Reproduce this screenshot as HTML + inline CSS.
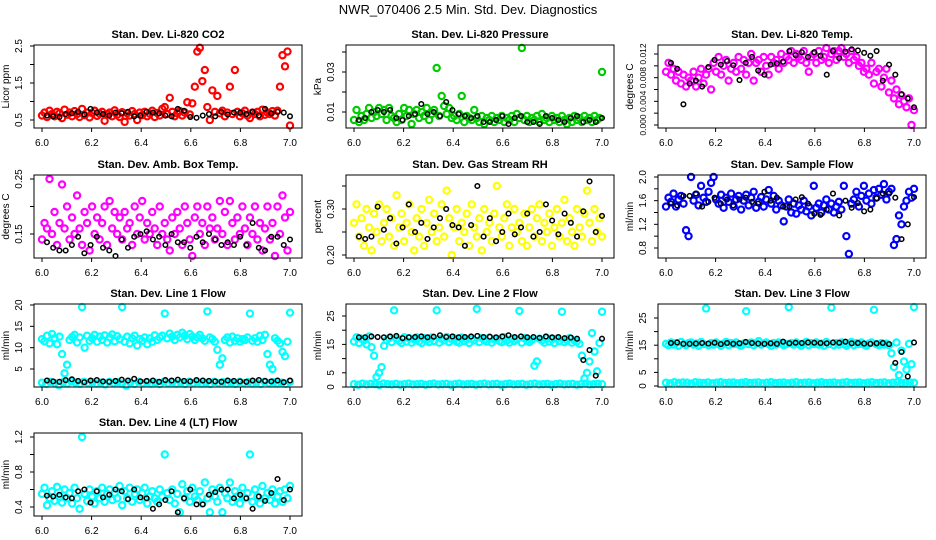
<!DOCTYPE html>
<html><head><meta charset="utf-8"><style>
body{margin:0;background:#fff;}
svg{display:block;font-family:"Liberation Sans",Arial,sans-serif;}
</style></head><body>
<svg id="chart" width="936" height="540" viewBox="0 0 936 540" xmlns="http://www.w3.org/2000/svg">
<rect width="936" height="540" fill="#fff"/>
<text x="468" y="14" text-anchor="middle" font-size="13">NWR_070406  2.5 Min. Std. Dev. Diagnostics</text>
</svg>
<script>
const xTicks = [6.0, 6.2, 6.4, 6.6, 6.8, 7.0];
const xTickLabels = ["6.0","6.2","6.4","6.6","6.8","7.0"];

const co2Red = [0.62,0.7,0.58,0.75,0.66,0.6,0.72,0.68,0.55,0.78,0.64,0.7,0.6,0.74,0.66,0.58,0.8,0.63,0.7,0.57,0.69,0.75,0.61,0.67,0.72,0.48,0.66,0.7,0.6,0.76,0.64,0.58,0.71,0.45,0.68,0.62,0.74,0.66,0.5,0.7,0.63,0.72,0.6,0.67,0.75,0.58,0.69,0.62,0.8,0.85,0.66,1.1,0.72,0.6,0.68,0.74,0.62,0.7,0.98,0.65,0.95,1.4,2.35,2.45,1.55,1.85,0.85,0.5,1.3,0.72,1.15,0.68,0.75,0.6,0.7,1.4,0.66,1.85,0.72,0.6,0.68,0.75,0.62,0.55,0.7,0.66,0.72,0.6,0.78,0.64,0.7,0.66,0.74,0.62,0.75,1.4,2.25,1.95,2.35,0.35];
const co2Black = [0.62,0.6,0.58,0.66,0.68,0.72,0.65,0.8,0.7,0.66,0.62,0.7,0.68,0.72,0.6,0.62,0.72,0.7,0.68,0.62,0.6,0.8,0.75,0.58,0.56,0.62,0.66,0.6,0.72,0.65,0.7,0.7,0.66,0.72,0.62,0.8,0.68,0.72,0.7,0.6];

const presGreen = [0.006,0.011,0.005,0.008,0.006,0.009,0.012,0.007,0.01,0.008,0.012,0.009,0.011,0.006,0.012,0.008,0.007,0.005,0.009,0.006,0.012,0.008,0.011,0.004,0.009,0.011,0.007,0.01,0.008,0.012,0.006,0.009,0.011,0.032,0.008,0.018,0.013,0.009,0.012,0.007,0.008,0.006,0.009,0.018,0.005,0.008,0.007,0.006,0.011,0.007,0.005,0.008,0.004,0.007,0.006,0.008,0.005,0.007,0.006,0.008,0.005,0.007,0.006,0.008,0.005,0.009,0.007,0.042,0.006,0.008,0.005,0.007,0.006,0.008,0.005,0.009,0.006,0.007,0.005,0.008,0.006,0.007,0.005,0.008,0.006,0.004,0.007,0.005,0.008,0.006,0.007,0.005,0.008,0.006,0.007,0.005,0.008,0.006,0.007,0.03];
const presBlack = [0.006,0.007,0.01,0.011,0.01,0.011,0.007,0.006,0.008,0.009,0.014,0.009,0.01,0.008,0.015,0.011,0.009,0.008,0.007,0.008,0.005,0.005,0.006,0.008,0.004,0.007,0.008,0.005,0.005,0.004,0.008,0.007,0.006,0.005,0.007,0.008,0.005,0.006,0.005,0.007];

const tempMag = [0.009,0.0105,0.0085,0.0095,0.0075,0.009,0.007,0.0085,0.0065,0.008,0.0075,0.009,0.0065,0.008,0.0095,0.007,0.0085,0.0095,0.006,0.0105,0.009,0.0115,0.0085,0.01,0.011,0.0075,0.0095,0.0105,0.009,0.0115,0.0095,0.011,0.0085,0.0105,0.012,0.0075,0.0105,0.011,0.009,0.0115,0.01,0.0085,0.0115,0.0105,0.011,0.0095,0.012,0.0105,0.0115,0.011,0.0125,0.0105,0.012,0.0115,0.011,0.0125,0.0105,0.009,0.0115,0.012,0.0105,0.0125,0.011,0.0115,0.013,0.0105,0.012,0.0125,0.011,0.0125,0.013,0.0115,0.012,0.0105,0.0125,0.011,0.0115,0.01,0.0105,0.009,0.0095,0.0085,0.0105,0.007,0.009,0.0095,0.0065,0.008,0.0095,0.0055,0.0075,0.0045,0.006,0.0035,0.005,0.004,0.003,0.0045,0.0,0.0025];
const tempBlack = [0.0105,0.0095,0.0035,0.007,0.0075,0.0065,0.0098,0.011,0.0102,0.0108,0.0101,0.0076,0.0105,0.0115,0.0092,0.0085,0.0102,0.0104,0.0107,0.0125,0.0118,0.0123,0.0115,0.0123,0.0117,0.0085,0.0125,0.0113,0.0124,0.0128,0.0126,0.0122,0.0117,0.0125,0.0075,0.0102,0.0085,0.0052,0.0045,0.003];

const ambMag = [0.14,0.17,0.16,0.25,0.15,0.19,0.13,0.17,0.24,0.16,0.2,0.14,0.18,0.15,0.22,0.16,0.13,0.19,0.17,0.12,0.2,0.15,0.18,0.14,0.17,0.2,0.13,0.21,0.16,0.19,0.15,0.18,0.14,0.19,0.16,0.17,0.13,0.2,0.15,0.18,0.21,0.14,0.17,0.15,0.19,0.16,0.13,0.2,0.15,0.17,0.14,0.12,0.18,0.15,0.19,0.16,0.13,0.2,0.17,0.14,0.11,0.18,0.2,0.15,0.17,0.13,0.2,0.16,0.18,0.14,0.16,0.21,0.15,0.19,0.13,0.21,0.17,0.14,0.18,0.15,0.2,0.16,0.13,0.18,0.15,0.2,0.14,0.17,0.12,0.16,0.2,0.14,0.17,0.11,0.2,0.15,0.22,0.18,0.12,0.19];
const ambBlack = [0.135,0.125,0.12,0.12,0.13,0.145,0.115,0.13,0.145,0.125,0.12,0.11,0.14,0.125,0.145,0.15,0.155,0.14,0.145,0.13,0.15,0.135,0.135,0.125,0.145,0.135,0.15,0.14,0.13,0.135,0.13,0.145,0.13,0.17,0.125,0.12,0.145,0.145,0.13,0.14];

const rhYellow = [0.27,0.31,0.24,0.28,0.22,0.3,0.26,0.21,0.29,0.25,0.31,0.23,0.27,0.3,0.24,0.28,0.22,0.33,0.26,0.29,0.23,0.27,0.31,0.25,0.21,0.28,0.24,0.3,0.22,0.27,0.32,0.25,0.29,0.23,0.26,0.31,0.24,0.34,0.28,0.2,0.26,0.3,0.23,0.27,0.25,0.29,0.22,0.31,0.26,0.24,0.28,0.21,0.3,0.25,0.27,0.23,0.29,0.35,0.26,0.24,0.28,0.31,0.22,0.26,0.3,0.25,0.27,0.23,0.29,0.22,0.26,0.3,0.24,0.28,0.31,0.23,0.27,0.25,0.29,0.22,0.26,0.3,0.24,0.27,0.32,0.23,0.28,0.25,0.22,0.3,0.26,0.24,0.29,0.34,0.27,0.23,0.3,0.25,0.28,0.24];
const rhBlack = [0.24,0.235,0.24,0.305,0.255,0.28,0.225,0.26,0.31,0.25,0.27,0.235,0.26,0.28,0.3,0.265,0.26,0.22,0.265,0.35,0.24,0.28,0.23,0.25,0.29,0.245,0.26,0.29,0.24,0.25,0.31,0.275,0.245,0.29,0.27,0.24,0.295,0.36,0.25,0.285];

const flowBlue = [1.5,1.65,1.58,1.72,1.5,1.62,1.68,1.55,1.1,1.0,2.0,1.6,1.7,1.52,1.85,1.65,1.58,1.75,1.9,2.0,1.62,1.55,1.7,1.48,1.65,1.58,1.72,1.5,1.62,1.68,1.45,1.6,1.7,1.52,1.65,1.75,1.48,1.58,1.66,1.5,1.62,1.78,1.55,1.68,1.45,1.6,1.52,1.25,1.5,1.62,1.4,1.55,1.38,1.52,1.45,1.6,1.42,1.5,1.35,1.85,1.48,1.55,1.4,1.52,1.62,1.45,1.55,1.4,1.5,1.58,1.45,1.85,1.0,0.7,1.55,1.62,1.75,1.5,1.68,1.85,1.6,1.72,1.55,1.78,1.65,1.8,1.7,1.88,1.62,1.75,1.8,0.85,0.95,1.35,1.2,1.5,1.6,1.75,1.65,1.8];
const flowBlack = [1.55,1.52,1.68,1.68,1.72,1.5,1.58,1.65,1.55,1.62,1.52,1.62,1.65,1.58,1.55,1.75,1.6,1.65,1.5,1.5,1.62,1.66,1.55,1.38,1.36,1.45,1.72,1.35,1.6,1.48,1.56,1.42,1.45,1.64,1.72,1.72,1.65,0.95,1.2,1.66];

const l1CyanHigh = [12,11.5,12.8,11,13.2,12.2,10.8,12.6,8.5,4,6,11.8,12.5,13,11.2,12.4,19.5,10,12.8,11.6,12.2,13,11.4,12.6,11.8,12.9,11.2,12.4,13.1,11.5,12.7,12,19.5,11.4,12.6,11,12.2,12.8,10.5,12,11.6,12.4,10.8,12.2,11.4,12.9,11.8,12.4,12.8,18,12.2,13.3,12.6,11.8,13,12.4,13.5,12.8,12,13.2,12.6,11.8,12.4,13,12.2,11.6,18.5,12.4,12,11.4,9.5,6,7.5,11.8,12.4,11.2,12.6,11.6,12.2,11.4,12,11.8,12.4,18,11.6,12.2,11.4,12.8,11.8,13,8.5,6,5,12.2,11.6,11,9,8,11.4,18.2];
const l1CyanLow = [1.8,1.5,2.0,1.7,1.2,1.9,1.6,2.1,1.8,1.5,2.0,1.7,1.9,1.6,1.8,1.4,2.0,1.7,1.9,1.6,1.1,1.8,1.5,2.0,1.7,1.9,1.6,1.8,1.5,2.0,1.7,1.9,1.6,1.8,1.5,2.0,1.7,1.9,1.6,1.8,1.5,2.0,1.7,1.9,1.6,1.8,1.5,2.0,1.7,1.9,1.6,1.8,1.5,2.0,1.7,1.9,1.6,1.8,1.5,2.0];
const l1Black = [2.3,2.1,2.0,2.4,2.6,2.2,1.9,2.3,2.4,2.1,2.0,2.2,2.5,2.3,2.7,2.1,2.2,2.3,2.0,2.4,2.3,2.5,2.2,2.1,2.4,2.3,2.2,2.1,2.0,2.3,2.2,2.1,2.0,2.3,2.4,2.2,2.1,2.3,1.9,2.3];

const l2CyanHigh = [16,17.5,15.5,17,16.5,15,17.8,14,11,3.5,5,7,14.5,16.5,17.2,15.8,27,17,16.2,15.5,17.5,16,17.2,15.6,16.8,17.5,16,15.5,17.2,16.6,15.8,17.4,16.2,27,15.6,17,16.4,17.6,15.8,16.8,17.2,16,15.6,17.4,16.2,16.8,15.5,17,16.4,27.5,15.8,17.2,16.6,16,17.4,15.6,16.8,17,16.2,15.8,17.5,16.4,15.6,17,16.2,16.8,26.8,15.6,17.2,16.4,15.8,16.6,7.5,9,17,16.4,15.6,17.2,16,16.8,15.5,17,16.2,26.5,15.8,16.6,17.2,15.6,16.4,16,15.2,11,3,5,9,19,12.5,5.5,15.5,26.5];
const l2CyanLow = [1,0.8,1.2,0.9,1.1,1,0.7,1.2,1,0.9,1.1,0.8,1,1.2,0.9,1,1.1,0.8,1,1.2,0.9,1,1.1,0.8,1,1.2,0.9,1,1.1,0.8,1,1.2,0.9,1,1.1,0.8,1,1.2,0.9,1,1.1,0.8,1,1.2,0.9,1,1.1,0.8,1,1.2,0.9,1,1.1,0.8,1,1.2,0.9,1,1.1,1];
const l2Black = [17.5,17.5,17.8,17.6,17.5,17.8,18,17.2,17.5,17.6,17.8,17.5,17.7,18.2,17.6,17.8,17.5,17.6,17.8,18,17.6,17.7,17.5,17.8,18.2,17.6,17.8,17.5,17.6,17.3,17.8,17.5,17.6,17.2,17.4,17,9.5,13,4,17];

const l3CyanHigh = [15.5,15,16,15.2,15.8,14.8,16.2,15.4,15,15.8,16,15.2,15.6,14.8,16.2,15.4,28.5,15,15.8,15.2,16,15.4,14.8,15.6,16.2,15,15.8,15.4,16,15.2,14.8,15.6,27.5,15.4,16,15,15.8,16.5,15.2,15.6,16,15.4,14.8,15.8,15.2,16,15.6,15,15.4,29,15.8,15.2,16,15.4,14.8,15.6,16.2,15,15.8,15.4,16,15.2,15.6,14.8,16.2,15.4,28.8,15,15.8,15.2,16,15.4,14.8,15.6,16.2,15,15.8,15.4,16,15.2,14.8,15.6,16,28,15.4,15,15.8,15.2,15.6,15,12,7,16,4,13,9,6,15.5,8,29];
const l3CyanLow = [1.2,1,1.4,1.1,1.3,1.2,0.9,1.4,1.2,1.1,1.3,1,1.2,1.4,1.1,1.2,1.3,1,1.2,1.4,1.1,1.2,1.3,1,1.2,1.4,1.1,1.2,1.3,1,1.2,1.4,1.1,1.2,1.3,1,1.2,1.4,1.1,1.2,1.3,1,1.2,1.4,1.1,1.2,1.3,1,1.2,1.4,1.1,1.2,1.3,1,1.2,1.4,1.1,1.2,1.3,1.2];
const l3Black = [15.8,16,15.5,15.5,15.6,15.8,15.6,15.9,15.4,15.8,15.5,15.7,16.2,15.8,15.6,15.5,15.7,15.5,16.3,15.7,15.9,15.8,16,15.9,15.8,15.7,16,15.9,16.3,15.7,15.8,15.6,15.5,15.7,15.8,15.4,8.5,12.5,3.5,16];

const l4Cyan = [0.55,0.62,0.42,0.5,0.58,0.47,0.63,0.52,0.45,0.6,0.5,0.56,0.44,0.62,0.5,0.38,1.2,0.55,0.47,0.6,0.52,0.44,0.58,0.5,0.62,0.46,0.55,0.6,0.48,0.56,0.5,0.64,0.42,0.58,0.5,0.62,0.46,0.55,0.6,0.48,0.56,0.62,0.44,0.52,0.58,0.5,0.46,0.6,0.52,1.0,0.56,0.48,0.6,0.44,0.55,0.34,0.66,0.5,0.58,0.46,0.62,0.52,0.48,0.58,0.44,0.68,0.5,0.34,0.6,0.52,0.46,0.62,0.34,0.56,0.5,0.68,0.46,0.58,0.52,0.44,0.62,0.5,0.56,1.0,0.46,0.6,0.52,0.44,0.64,0.5,0.56,0.48,0.6,0.44,0.52,0.58,0.46,0.6,0.5,0.64];
const l4Black = [0.53,0.52,0.54,0.51,0.5,0.58,0.6,0.45,0.58,0.51,0.54,0.6,0.58,0.49,0.6,0.51,0.5,0.38,0.43,0.48,0.58,0.34,0.5,0.6,0.43,0.43,0.54,0.57,0.6,0.6,0.5,0.54,0.5,0.38,0.52,0.47,0.56,0.72,0.48,0.6];

const panels = [
 {name:"co2", title:"Stan. Dev. Li-820 CO2", ylab:"Licor ppm", col:0,row:0, ref:[0.5,75,2.5,1], ticks:[0.5,1.0,1.5,2.0,2.5], labels:[0.5,1.5,2.5], fmt:1, lfs:10,
  series:[[co2Red,"#ff0000"],[co2Black,"#000"]]},
 {name:"pressure", title:"Stan. Dev. Li-820 Pressure", ylab:"kPa", col:1,row:0, ref:[0.01,67,0.03,27], ticks:[0.01,0.02,0.03,0.04], labels:[0.01,0.03], fmt:2, lfs:10,
  series:[[presGreen,"#00cc00"],[presBlack,"#000"]]},
 {name:"temp", title:"Stan. Dev. Li-820 Temp.", ylab:"degrees C", col:2,row:0, ref:[0,80,0.012,9], ticks:[0,0.002,0.004,0.006,0.008,0.01,0.012], labels:[0,0.004,0.008,0.012], fmt:3, lfs:8.5,
  series:[[tempMag,"#ff00ff"],[tempBlack,"#000"]]},
 {name:"amb-box-temp", title:"Stan. Dev. Amb. Box Temp.", ylab:"degrees C", col:0,row:1, ref:[0.25,4,0.15,59], ticks:[0.15,0.2,0.25], labels:[0.15,0.25], fmt:2, lfs:10,
  series:[[ambMag,"#ff00ff"],[ambBlack,"#000"]]},
 {name:"gas-rh", title:"Stan. Dev. Gas Stream RH", ylab:"percent", col:1,row:1, ref:[0.3,34,0.2,80], ticks:[0.2,0.25,0.3,0.35], labels:[0.2,0.3], fmt:2, lfs:10,
  series:[[rhYellow,"#ffff00"],[rhBlack,"#000"]]},
 {name:"sample-flow", title:"Stan. Dev. Sample Flow", ylab:"ml/min", col:2,row:1, ref:[2.0,2,0.8,73], ticks:[0.8,1.0,1.2,1.4,1.6,1.8,2.0], labels:[0.8,1.2,1.6,2.0], fmt:1, lfs:10,
  series:[[flowBlue,"#0000ff"],[flowBlack,"#000"]]},
 {name:"line1-flow", title:"Stan. Dev. Line 1 Flow", ylab:"ml/min", col:0,row:2, ref:[20,1,5,65], ticks:[5,10,15,20], labels:[5,10,15,20], fmt:0, lfs:10,
  series:[[l1CyanHigh,"#00ffff"],[l1CyanLow,"#00ffff"],[l1Black,"#000"]]},
 {name:"line2-flow", title:"Stan. Dev. Line 2 Flow", ylab:"ml/min", col:1,row:2, ref:[25,12,0,83], ticks:[0,5,10,15,20,25], labels:[0,5,15,25], fmt:0, lfs:10,
  series:[[l2CyanHigh,"#00ffff"],[l2CyanLow,"#00ffff"],[l2Black,"#000"]]},
 {name:"line3-flow", title:"Stan. Dev. Line 3 Flow", ylab:"ml/min", col:2,row:2, ref:[25,14,0,82], ticks:[0,5,10,15,20,25], labels:[0,5,15,25], fmt:0, lfs:10,
  series:[[l3CyanHigh,"#00ffff"],[l3CyanLow,"#00ffff"],[l3Black,"#000"]]},
 {name:"line4-flow", title:"Stan. Dev. Line 4 (LT) Flow", ylab:"ml/min", col:0,row:3, ref:[1.2,4,0.4,74], ticks:[0.4,0.6,0.8,1.0,1.2], labels:[0.4,0.8,1.2], fmt:1, lfs:10,
  series:[[l4Cyan,"#00ffff"],[l4Black,"#000"]]}
];
const rowTops = [45,175,304,433];
const NS = "http://www.w3.org/2000/svg";
const svg = document.getElementById("chart");
function mk(tag, attrs, parent){const e=document.createElementNS(NS,tag);for(const k in attrs)e.setAttribute(k,attrs[k]);(parent||svg).appendChild(e);return e;}

panels.forEach(p=>{
  const g = mk("g",{});
  
  
  const top = rowTops[p.row], bot = top+83;
  const left = 34+312*p.col, right = 302+312*p.col;
  const xs = v => 42+312*p.col + (v-6)*248;
  const [v1,o1,v2,o2] = p.ref;
  const ys = v => top + o1 + (v-v1)*(o2-o1)/(v2-v1);
  const t = mk("text",{x:(left+right)/2,y:top-7,"text-anchor":"middle","font-size":"11","font-weight":"bold"},g);
  t.textContent = p.title;
  
  
  const xa = mk("g",{},g);
  
  
  xTicks.forEach((v,i)=>{
    mk("line",{x1:xs(v),x2:xs(v),y1:bot,y2:bot+4,stroke:"#000","stroke-width":1},xa);
    const lt = mk("text",{x:xs(v),y:bot+18,"text-anchor":"middle","font-size":"10"},xa);
    lt.textContent = xTickLabels[i];
    
    
  });
  const ya = mk("g",{},g);
  
  
  p.ticks.forEach(v=>{ mk("line",{x1:left-4,x2:left,y1:ys(v),y2:ys(v),stroke:"#000","stroke-width":1},ya); });
  p.labels.forEach(v=>{
    const yy = ys(v), xx = left-12;
    const lt = mk("text",{x:xx,y:yy,"text-anchor":"middle","font-size":p.lfs,transform:`rotate(-90 ${xx} ${yy})`},ya);
    lt.textContent = p.fmt===0 ? String(v) : v.toFixed(p.fmt);
    
    
  });
  const yl = mk("text",{x:left-25,y:(top+bot)/2,"text-anchor":"middle","font-size":"10",transform:`rotate(-90 ${left-25} ${(top+bot)/2})`},ya);
  yl.textContent = p.ylab;
  
  
  p.series.forEach((s,si)=>{
    const arr = s[0], color = s[1];
    const isBlack = color==="#000";
    const sg = mk("g",{fill:"none",stroke:color,"stroke-width":isBlack?1.5:2.2},g);
    
    
    const n = arr.length;
    arr.forEach((v,i)=>{
      const xv = isBlack ? 6.02 + i*0.98/(n-1) : 6 + i/(n-1);
      const c = mk("circle",{cx:xs(xv),cy:ys(v),r:isBlack?2.3:3.1},sg);
      
      
    });
  });
  const b = mk("rect",{x:left,y:top,width:right-left,height:83,fill:"none",stroke:"#000","stroke-width":1},g);
  
  
});
</script>
</body></html>
